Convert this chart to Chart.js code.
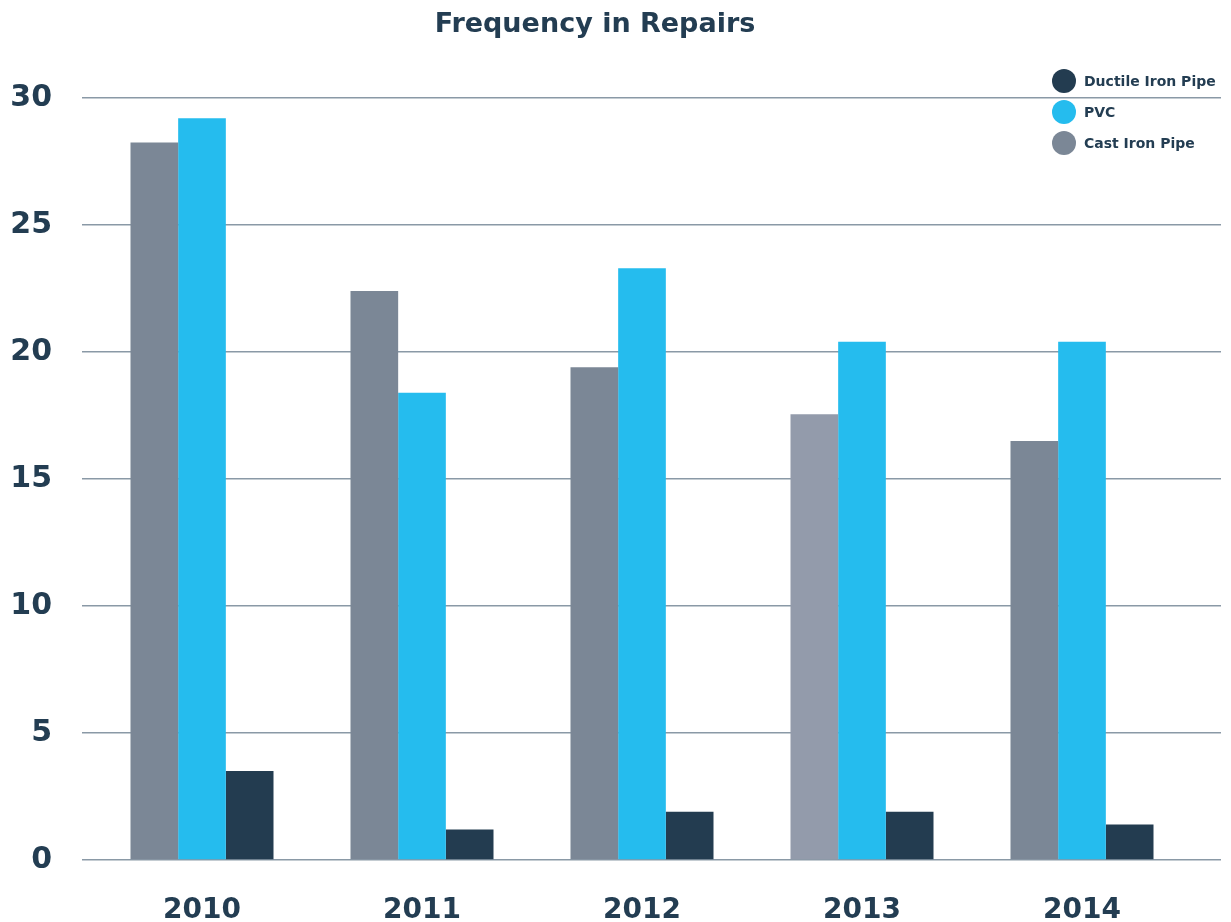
<!DOCTYPE html>
<html>
<head>
<meta charset="utf-8">
<script src="https://cdn.jsdelivr.net/npm/chart.js@4.4.0/dist/chart.umd.min.js"></script>
<style>
  html, body { margin: 0; padding: 0; background: #fff; }
  #wrap { width: 1231px; height: 922px; }
</style>
</head>
<body>
<div id="wrap"><canvas id="grafica"></canvas></div>
<script>
// datos
const anios = ['2010', '2011', '2012', '2013', '2014'];
const castIron = [28.25, 22.4, 19.4, 17.55, 16.5];
const pvc = [29.2, 18.4, 23.3, 20.4, 20.4];
const ductil = [3.5, 1.2, 1.9, 1.9, 1.4];
const ticksY = [0, 5, 10, 15, 20, 25, 30];

const azulOscuro = '#233c50';
const textoColor = '#233d52';
const gris = '#7b8796';
const grisClaro = '#939bab';
const celeste = '#25bcee';
const lineaColor = '#8a99a6';
const fuente = "'DejaVu Sans', 'Open Sans', sans-serif";

// titulo y leyenda a mano (la leyenda va encima del area del grafico)
const titulo = 'Frequency in Repairs';
const leyendaOrden = [2, 1, 0];

const pluginTextos = {
    id: 'textos',
    afterDraw(chart) {
        const ctx = chart.ctx;
        ctx.save();
        ctx.fillStyle = textoColor;
        ctx.font = "bold 27px " + fuente;
        ctx.textAlign = 'center';
        ctx.textBaseline = 'middle';
        ctx.fillText(titulo, 595, 25);

        ctx.font = "bold 14px " + fuente;
        ctx.textAlign = 'left';
        leyendaOrden.forEach((idx, i) => {
            const ds = chart.data.datasets[idx];
            const y = 81 + i * 31;
            ctx.beginPath();
            ctx.arc(1064, y, 12, 0, Math.PI * 2);
            ctx.fillStyle = ds.legendColor;
            ctx.fill();
            ctx.fillStyle = textoColor;
            ctx.fillText(ds.label, 1084, y + 1);
        });
        ctx.restore();
    }
};

const ctx = document.getElementById('grafica').getContext('2d');
new Chart(ctx, {
    type: 'bar',
    data: {
        labels: anios,
        datasets: [
            {
                label: 'Cast Iron Pipe',
                data: castIron,
                backgroundColor: [gris, gris, gris, grisClaro, gris],
                legendColor: gris
            },
            {
                label: 'PVC',
                data: pvc,
                backgroundColor: celeste,
                legendColor: celeste
            },
            {
                label: 'Ductile Iron Pipe',
                data: ductil,
                backgroundColor: azulOscuro,
                legendColor: azulOscuro
            }
        ]
    },
    options: {
        responsive: true,
        maintainAspectRatio: false,
        animation: false,
        layout: { padding: { top: 98, left: 8, right: 10, bottom: 0 } },
        datasets: {
            bar: { categoryPercentage: 0.65, barPercentage: 1.0 }
        },
        plugins: {
            legend: { display: false },
            title: { display: false },
            tooltip: { enabled: false }
        },
        scales: {
            x: {
                afterFit: (axis) => { axis.height = 62; },
                grid: { display: false },
                border: { display: false },
                ticks: {
                    color: textoColor,
                    padding: 29,
                    font: { family: fuente, size: 28, weight: 'bold', lineHeight: 1.0 }
                }
            },
            y: {
                min: 0,
                max: 30,
                afterBuildTicks: (axis) => { axis.ticks = ticksY.map(v => ({ value: v })); },
                afterFit: (axis) => { axis.width = 84; },
                border: { display: false },
                grid: { color: lineaColor, lineWidth: 1.5, tickLength: 10, drawTicks: true },
                ticks: {
                    color: textoColor,
                    padding: 30,
                    font: { family: fuente, size: 30, weight: 'bold' }
                }
            },
            y2: {
                position: 'right',
                min: 0,
                max: 30,
                afterBuildTicks: (axis) => { axis.ticks = ticksY.map(v => ({ value: v })); },
                border: { display: false },
                grid: { color: lineaColor, lineWidth: 1.5, tickLength: 29, drawTicks: true, drawOnChartArea: false },
                ticks: { display: false }
            }
        }
    },
    plugins: [pluginTextos]
});
</script>
</body>
</html>
